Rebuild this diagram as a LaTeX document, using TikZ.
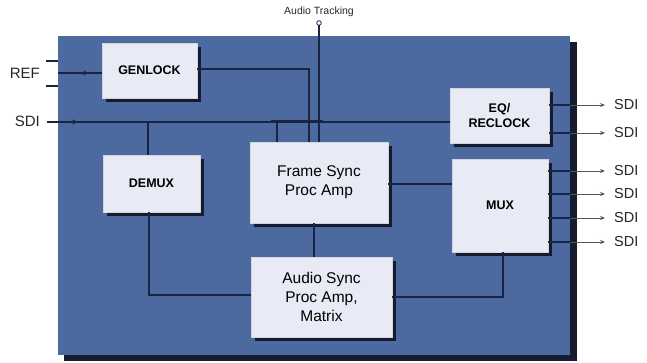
\documentclass[tikz,border=0pt]{standalone}
\usepackage{fontspec}
\setmainfont{Liberation Sans}
\usetikzlibrary{arrows.meta,shadows,decorations.markings}
\definecolor{panel}{RGB}{76,106,160}
\definecolor{boxfill}{RGB}{232,234,245}
\definecolor{shadowc}{RGB}{22,28,48}
\definecolor{wire}{RGB}{24,36,66}
\definecolor{outwire}{RGB}{80,88,100}
\tikzset{
  blockbox/.style={fill=boxfill, draw=boxfill!80!gray, line width=0.4pt, inner sep=0pt,
    align=center, drop shadow={shadow xshift=4pt, shadow yshift=-4pt, opacity=1, fill=shadowc}},
  boldlbl/.style={font=\fontsize{12.5}{15}\selectfont\bfseries},
  biglbl/.style={font=\fontsize{15.5}{19}\selectfont},
  wireln/.style={draw=wire, line width=1.1pt},
  outln/.style={draw=outwire, line width=0.9pt, -{Stealth[length=5pt,width=4pt]}},
  midarrow/.style={postaction={decorate}, decoration={markings,
    mark=at position 31pt with {\arrow{Stealth[length=6pt,width=5pt]}}}},
  sdilbl/.style={font=\fontsize{14.5}{17}\selectfont, anchor=west, inner sep=0pt, text=black!85},
}
\begin{document}
\begin{tikzpicture}[x=1pt,y=-1pt]
\useasboundingbox (0,0) rectangle (647,363);
% main panel with shadow
\fill[shadowc] (64,42) rectangle (577,361);
\fill[panel] (58,36) rectangle (570,355);

% blocks
\node[blockbox, boldlbl, minimum width=95pt, minimum height=55pt] (gen) at (149.5,70.5) {GENLOCK};
\node[blockbox, boldlbl, minimum width=99pt, minimum height=55pt] (eq) at (499.5,115.5) {EQ/\\RECLOCK};
\node[blockbox, boldlbl, minimum width=97pt, minimum height=57pt] (demux) at (151.5,183.5) {DEMUX};
\node[blockbox, biglbl, minimum width=138pt, minimum height=81pt] (fs) at (319,182.5) {Frame Sync\\Proc Amp};
\node[blockbox, boldlbl, minimum width=96pt, minimum height=93pt] (mux) at (500,205.5) {MUX};
\node[blockbox, biglbl, minimum width=141pt, minimum height=80pt] (as) at (321.5,297) {Audio Sync\\Proc Amp,\\Matrix};

% labels
\node[font=\fontsize{15}{18}\selectfont, anchor=east, inner sep=0pt, text=black!85] (ref) at (40,73) {REF};
\node[font=\fontsize{15}{18}\selectfont, anchor=east, inner sep=0pt, text=black!85] (sdiin) at (40,121) {SDI};
\node[font=\fontsize{10.5}{12}\selectfont, inner sep=0pt, text=black!85] (atl) at (319,12) {Audio Tracking};

% REF bracket
\coordinate (r1) at (46,61);
\coordinate (r2) at (46,86);
\coordinate (r1e) at (58,61);
\coordinate (r2e) at (58,86);
\draw[wireln] (r1) -- (r1e);
\draw[wireln] (r2) -- (r2e);
\coordinate (refin) at (58,73);
\draw[wireln, midarrow] (refin) -- (refin -| gen.west);

% SDI input
\coordinate (sdistart) at (47,122);
\draw[wireln, midarrow] (sdistart) -- (sdistart -| eq.west);
\coordinate (jdemux) at (148,122);
\draw[wireln] (jdemux) -- (jdemux |- demux.north);
\coordinate (jfs) at (277,122);
\draw[wireln] (jfs) -- (jfs |- fs.north);
\fill[wire] (271,120.5) rectangle (323,123.5);

% GENLOCK to frame sync
\coordinate (g1) at (197,69);
\coordinate (g2) at (309,69);
\draw[wireln] (g1) -- (g2) -- (g2 |- fs.north);

% audio tracking
\coordinate (atc) at (319,23);
\draw[wire, line width=0.8pt] (atc) circle (2.3pt);
\draw[wireln] (319,25.3) -- (319,142);

% demux to audio sync
\coordinate (d1) at (149,212);
\coordinate (d2) at (149,295);
\draw[wireln] (d1) -- (d2) -- (d2 -| as.west);

% frame sync to mux
\coordinate (f1) at (388,184);
\draw[wireln] (f1) -- (f1 -| mux.west);

% frame sync to audio sync
\coordinate (f2) at (314,223);
\draw[wireln] (f2) -- (f2 |- as.north);

% audio sync to mux
\coordinate (a1) at (392,297);
\coordinate (a2) at (503,297);
\draw[wireln] (a1) -- (a2) -- (a2 |- mux.south);

% outputs
\foreach \yy/\nm in {105/o1,133/o2}{
  \coordinate (\nm s) at (549,\yy);
  \coordinate (\nm e) at (605,\yy);
  \draw[wireln] (\nm s) -- (570,\yy);
  \draw[outln] (570,\yy) -- (\nm e);
  \node[sdilbl] (\nm) at (614,\yy) {SDI};
}
\foreach \yy/\nm in {171/o3,194/o4,218/o5,242/o6}{
  \coordinate (\nm s) at (548,\yy);
  \coordinate (\nm e) at (605,\yy);
  \draw[wireln] (\nm s) -- (570,\yy);
  \draw[outln] (570,\yy) -- (\nm e);
  \node[sdilbl] (\nm) at (614,\yy) {SDI};
}
\end{tikzpicture}
\end{document}
